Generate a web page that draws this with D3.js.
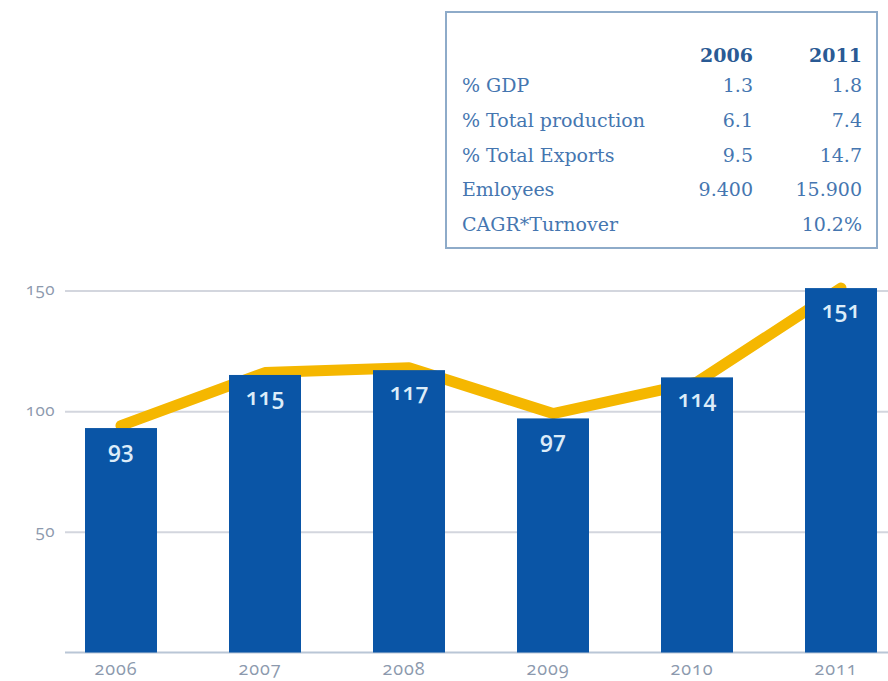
<!DOCTYPE html>
<html lang="en">
  <head>
    <meta charset="UTF-8" />
    <title>Turnover 2006-2011</title>
    <script src="https://d3js.org/d3.v7.min.js"></script>
    <style>
      body { margin: 0; background: #fff; }
      .tbl text { font-family: "DejaVu Serif", serif; font-size: 19px; }
      .num { font-family: "Open Sans", sans-serif; font-feature-settings: "onum"; }
    </style>
  </head>
  <body>
    <svg width="888" height="681"></svg>
    <script>
      // chart data
      const years = ["2006", "2007", "2008", "2009", "2010", "2011"];
      const barValues = [93, 115, 117, 97, 114, 151];
      const lineValues = [94, 116, 118, 99, 112, 151];
      const yTicks = [50, 100, 150];

      // table data
      const tableCols = ["2006", "2011"];
      const tableRows = ["% GDP", "% Total production", "% Total Exports", "Emloyees", "CAGR*Turnover"];
      const col2006 = ["1.3", "6.1", "9.5", "9.400", ""];
      const col2011 = ["1.8", "7.4", "14.7", "15.900", "10.2%"];

      const svg = d3.select("svg");

      const x = d3.scaleBand().domain(years).range([49, 913]).paddingInner(0.5).paddingOuter(0.25);
      const y = d3.scaleLinear().domain([0, 150]).range([652.5, 290.5]);

      //gridlines + y labels
      const yAxis = svg.append("g")
        .attr("transform", "translate(65,0)")
        .call(d3.axisLeft(y).tickValues(yTicks).tickSize(-(888 - 65)).tickPadding(10));
      yAxis.select(".domain").remove();
      yAxis.selectAll("line").attr("stroke", "#d3d6de").attr("stroke-width", 2);
      yAxis.selectAll("text")
        .attr("class", "num")
        .attr("fill", "#8c99ad")
        .attr("font-size", 17)
        .attr("letter-spacing", 0.5)
        .attr("dy", "0.25em");

      //baseline
      svg.append("line")
        .attr("x1", 65).attr("x2", 888)
        .attr("y1", y(0)).attr("y2", y(0))
        .attr("stroke", "#b9c6d6").attr("stroke-width", 2);

      //yellow line behind bars
      const line = d3.line()
        .x((d, i) => x(years[i]) + x.bandwidth() / 2)
        .y(d => y(d));
      svg.append("path")
        .datum(lineValues)
        .attr("d", line)
        .attr("fill", "none")
        .attr("stroke", "#f5b700")
        .attr("stroke-width", 11)
        .attr("stroke-linejoin", "round")
        .attr("stroke-linecap", "round");

      //bars
      svg.append("g")
        .selectAll("rect")
        .data(barValues)
        .enter()
        .append("rect")
        .attr("x", (d, i) => x(years[i]))
        .attr("y", d => y(d))
        .attr("width", x.bandwidth())
        .attr("height", d => y(0) - y(d))
        .attr("fill", "#0a55a6");

      //bar labels
      svg.append("g")
        .selectAll("text")
        .data(barValues)
        .enter()
        .append("text")
        .attr("class", "num")
        .attr("x", (d, i) => x(years[i]) + x.bandwidth() / 2)
        .attr("y", d => y(d) + 30)
        .attr("text-anchor", "middle")
        .attr("font-size", 23)
        .attr("font-weight", 600)
        .attr("fill", "#dcecf9")
        .text(d => d);

      //x labels
      const xAxis = svg.append("g")
        .attr("transform", `translate(-5,${y(0)})`)
        .call(d3.axisBottom(x).tickSize(0).tickPadding(10));
      xAxis.select(".domain").remove();
      xAxis.selectAll("text")
        .attr("class", "num")
        .attr("fill", "#8c99ad")
        .attr("font-size", 18)
        .attr("letter-spacing", 1);

      //table box
      const tbl = svg.append("g").attr("class", "tbl");
      tbl.append("rect")
        .attr("x", 446).attr("y", 12)
        .attr("width", 431).attr("height", 236)
        .attr("fill", "#fff")
        .attr("stroke", "#8eabc9")
        .attr("stroke-width", 2);

      const colX = [753, 862];
      tbl.selectAll(".hdr")
        .data(tableCols)
        .enter()
        .append("text")
        .attr("class", "hdr")
        .attr("x", (d, i) => colX[i])
        .attr("y", 62)
        .attr("text-anchor", "end")
        .attr("font-weight", "bold")
        .attr("font-size", 16)
        .attr("fill", "#2a5a94")
        .text(d => d);

      const rowY = i => 92 + i * 34.8;
      tbl.selectAll(".lbl")
        .data(tableRows)
        .enter()
        .append("text")
        .attr("class", "lbl")
        .attr("x", 462)
        .attr("y", (d, i) => rowY(i))
        .attr("fill", "#4576b0")
        .text(d => d);

      [col2006, col2011].forEach((col, c) => {
        tbl.selectAll(".v" + c)
          .data(col)
          .enter()
          .append("text")
          .attr("class", "v" + c)
          .attr("x", colX[c])
          .attr("y", (d, i) => rowY(i))
          .attr("text-anchor", "end")
          .attr("font-size", 17)
          .attr("fill", "#4576b0")
          .text(d => d);
      });
    </script>
  </body>
</html>
